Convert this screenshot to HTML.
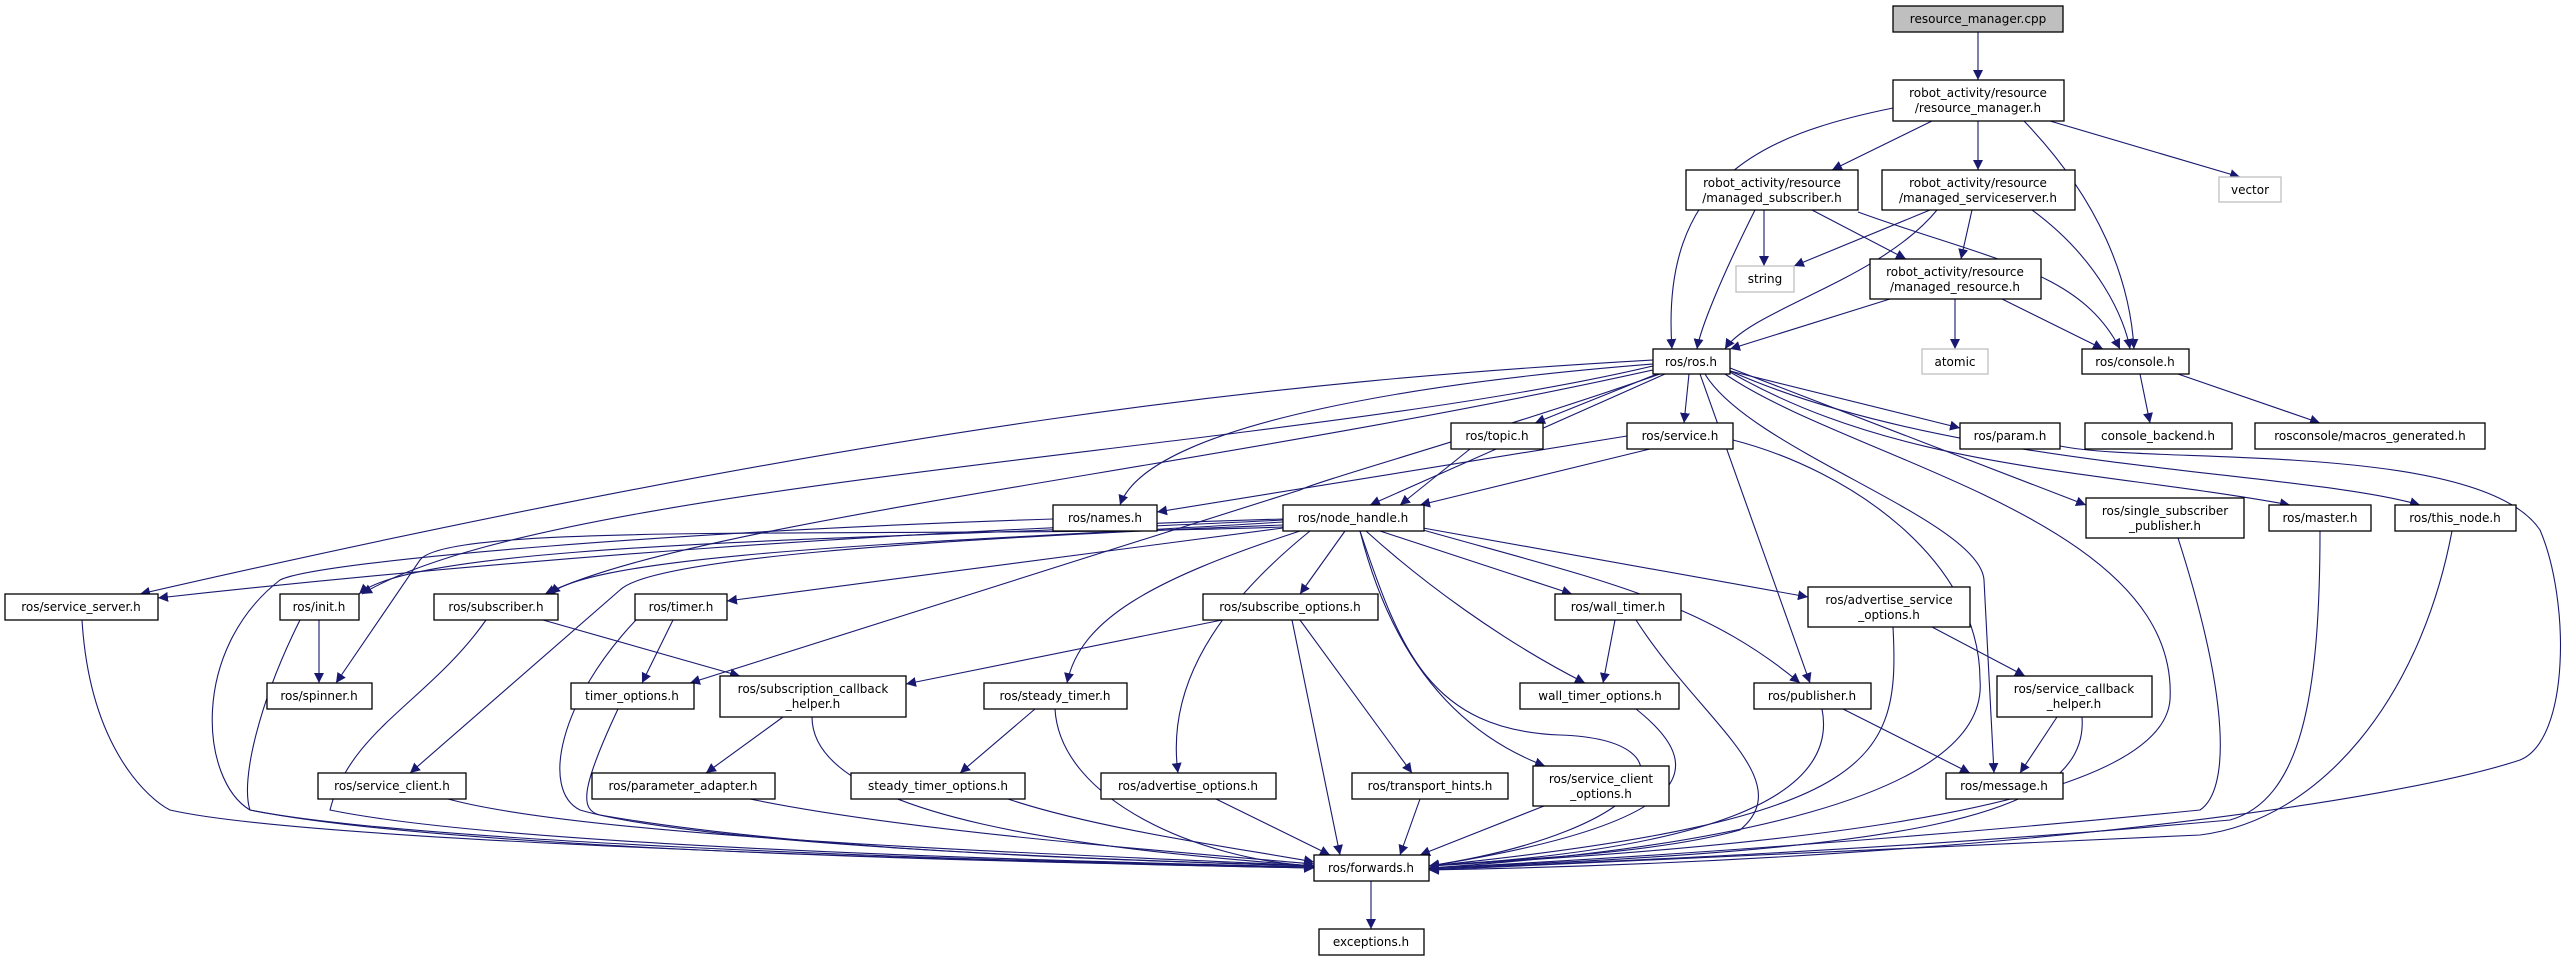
<!DOCTYPE html>
<html><head><meta charset="utf-8"><style>
html,body{margin:0;padding:0;background:#fff;}
svg{display:block;}
text{font-family:"DejaVu Sans","Liberation Sans",sans-serif;font-size:12px;fill:#000;text-anchor:middle;}
.n{fill:#fff;stroke:#000;stroke-width:1.3;}
.g{fill:#fff;stroke:#bfbfbf;stroke-width:1.3;}
.e{fill:none;stroke:#191970;stroke-width:1.1;marker-end:url(#a);}
</style></head><body>
<svg width="2563" height="961" viewBox="0 0 2563 961" xmlns="http://www.w3.org/2000/svg">
<defs><marker id="a" markerUnits="userSpaceOnUse" markerWidth="11" markerHeight="10" refX="10" refY="5" orient="auto"><path d="M0,0 L10,5 L0,10 z" fill="#191970"/></marker></defs>
<g>
<path class="e" d="M1978 32 L1978 80"/>
<path class="e" d="M1893 108 C1760 135 1660 180 1672 349"/>
<path class="e" d="M1932 121 L1832 170"/>
<path class="e" d="M1978 121 L1978 170"/>
<path class="e" d="M2024 121 C2100 200 2130 280 2134 349"/>
<path class="e" d="M2050 121 L2240 177"/>
<path class="e" d="M1755 210 C1720 280 1700 330 1697 349"/>
<path class="e" d="M1764 210 L1764 266"/>
<path class="e" d="M1812 210 L1906 259"/>
<path class="e" d="M1858 212 C1990 260 2080 270 2120 349"/>
<path class="e" d="M1930 210 L1794 266"/>
<path class="e" d="M1937 210 C1880 280 1750 310 1725 349"/>
<path class="e" d="M1972 210 L1961 259"/>
<path class="e" d="M2032 210 C2100 260 2125 320 2130 349"/>
<path class="e" d="M1890 299 L1730 349"/>
<path class="e" d="M1955 299 L1955 349"/>
<path class="e" d="M2002 299 L2103 349"/>
<path class="e" d="M2140 374 L2150 423"/>
<path class="e" d="M2178 374 L2320 423"/>
<path class="e" d="M1657 374 L1535 423"/>
<path class="e" d="M1689 374 L1684 423"/>
<path class="e" d="M1730 371 L1960 428"/>
<path class="e" d="M2060 446 C2150 465 2480 440 2540 530 C2570 600 2570 740 2520 760 C2400 800 2000 860 1429 870"/>
<path class="e" d="M1653 364 C1450 380 1150 420 1120 505"/>
<path class="e" d="M1627 436 L1157 512"/>
<path class="e" d="M1470 449 L1400 505"/>
<path class="e" d="M1650 449 L1420 505"/>
<path class="e" d="M1665 374 L1370 505"/>
<path class="e" d="M1653 360 C1300 380 900 420 140 594"/>
<path class="e" d="M1283 519 C900 530 500 560 158 598"/>
<path class="e" d="M1283 520 C900 540 420 540 359 594"/>
<path class="e" d="M1653 366 C1300 450 550 480 362 594"/>
<path class="e" d="M1653 370 C1200 470 700 520 545 594"/>
<path class="e" d="M1283 522 C1000 540 600 550 550 594"/>
<path class="e" d="M1283 527 C900 540 450 520 420 560 L336 683"/>
<path class="e" d="M319 620 L319 683"/>
<path class="e" d="M1283 528 L727 601"/>
<path class="e" d="M1660 374 C1500 430 1320 480 1300 490 L690 683"/>
<path class="e" d="M1283 525 C900 540 650 560 620 590 L410 773"/>
<path class="e" d="M1300 531 C1150 580 1080 620 1067 683"/>
<path class="e" d="M1310 531 C1200 620 1168 700 1178 773"/>
<path class="e" d="M1345 531 L1300 594"/>
<path class="e" d="M1292 620 L1340 855"/>
<path class="e" d="M1300 620 L1412 773"/>
<path class="e" d="M1035 709 L960 773"/>
<path class="e" d="M1055 709 C1060 800 1200 860 1314 866"/>
<path class="e" d="M783 717 L706 773"/>
<path class="e" d="M812 717 C812 820 1100 850 1314 866"/>
<path class="e" d="M543 620 L740 676"/>
<path class="e" d="M1222 620 L906 684"/>
<path class="e" d="M673 620 L642 683"/>
<path class="e" d="M1380 531 L1572 594"/>
<path class="e" d="M1366 531 C1420 580 1500 640 1585 683"/>
<path class="e" d="M1615 620 L1603 683"/>
<path class="e" d="M1423 530 C1600 580 1700 600 1800 683"/>
<path class="e" d="M1423 528 L1808 597"/>
<path class="e" d="M1932 627 L2025 676"/>
<path class="e" d="M1893 627 C1900 760 1880 820 1429 866"/>
<path class="e" d="M2057 717 L2020 773"/>
<path class="e" d="M2082 717 C2090 820 1900 850 1429 868"/>
<path class="e" d="M1843 709 L1970 773"/>
<path class="e" d="M1822 709 C1840 800 1700 850 1429 866"/>
<path class="e" d="M1700 374 L1810 683"/>
<path class="e" d="M1705 374 C1750 450 1980 520 1984 580 L1994 773"/>
<path class="e" d="M1730 368 L2086 505"/>
<path class="e" d="M1730 372 C1900 470 2100 470 2290 505"/>
<path class="e" d="M1728 370 C1950 470 2300 470 2420 505"/>
<path class="e" d="M1725 374 C1850 460 2180 520 2170 700 C2160 820 1700 850 1429 866"/>
<path class="e" d="M1733 440 C1850 470 1980 560 1980 680 C1990 800 1700 850 1429 868"/>
<path class="e" d="M2178 538 C2230 700 2230 790 2200 810 C1900 840 1600 860 1429 868"/>
<path class="e" d="M2320 531 C2320 700 2300 800 2230 820 C1900 850 1600 862 1429 869"/>
<path class="e" d="M2452 531 C2420 700 2320 820 2200 835 C1900 850 1600 864 1429 870"/>
<path class="e" d="M1636 620 C1700 720 1800 780 1740 830 C1650 855 1500 860 1429 866"/>
<path class="e" d="M1636 709 C1700 760 1720 820 1429 866"/>
<path class="e" d="M1360 531 C1390 650 1450 730 1545 766"/>
<path class="e" d="M1360 531 C1400 650 1430 730 1560 735 C1700 740 1660 830 1429 866"/>
<path class="e" d="M1544 806 L1420 855"/>
<path class="e" d="M1420 799 L1400 855"/>
<path class="e" d="M1216 799 L1330 855"/>
<path class="e" d="M1008 799 C1100 830 1250 850 1314 862"/>
<path class="e" d="M750 799 C900 830 1150 850 1314 864"/>
<path class="e" d="M448 799 C600 840 1100 855 1314 866"/>
<path class="e" d="M82 620 C90 750 150 800 170 810 C300 840 900 860 1314 868"/>
<path class="e" d="M300 620 C260 700 240 780 250 810 C400 840 900 860 1314 867"/>
<path class="e" d="M486 620 C430 700 350 730 330 810 C500 845 1000 860 1314 867"/>
<path class="e" d="M636 620 C560 700 540 790 580 810 C700 845 1100 860 1314 866"/>
<path class="e" d="M618 709 C580 790 580 810 600 815 C800 850 1100 860 1314 866"/>
<path class="e" d="M1053 519 C700 530 320 560 280 580 C190 650 200 780 250 810 C450 850 1000 862 1314 868"/>
<path class="e" d="M1371 881 L1371 929"/>
</g>
<g>
<rect x="1893" y="6" width="170" height="26" fill="#bfbfbf" stroke="#000" stroke-width="1.3"/><text x="1978" y="23">resource_manager.cpp</text>
<rect class="n" x="1893" y="80" width="171" height="41"/><text x="1978" y="97">robot_activity/resource</text><text x="1978" y="112">/resource_manager.h</text>
<rect class="n" x="1686" y="170" width="172" height="40"/><text x="1772" y="187">robot_activity/resource</text><text x="1772" y="202">/managed_subscriber.h</text>
<rect class="n" x="1882" y="170" width="193" height="40"/><text x="1978" y="187">robot_activity/resource</text><text x="1978" y="202">/managed_serviceserver.h</text>
<rect class="g" x="2219" y="177" width="62" height="25"/><text x="2250" y="194">vector</text>
<rect class="g" x="1736" y="266" width="58" height="26"/><text x="1765" y="283">string</text>
<rect class="n" x="1870" y="259" width="171" height="40"/><text x="1955" y="276">robot_activity/resource</text><text x="1955" y="291">/managed_resource.h</text>
<rect class="n" x="1653" y="349" width="77" height="25"/><text x="1691" y="366">ros/ros.h</text>
<rect class="g" x="1922" y="349" width="66" height="25"/><text x="1955" y="366">atomic</text>
<rect class="n" x="2082" y="349" width="107" height="25"/><text x="2135" y="366">ros/console.h</text>
<rect class="n" x="1451" y="423" width="92" height="26"/><text x="1497" y="440">ros/topic.h</text>
<rect class="n" x="1627" y="423" width="106" height="26"/><text x="1680" y="440">ros/service.h</text>
<rect class="n" x="1960" y="423" width="100" height="26"/><text x="2010" y="440">ros/param.h</text>
<rect class="n" x="2085" y="423" width="147" height="26"/><text x="2158" y="440">console_backend.h</text>
<rect class="n" x="2255" y="423" width="230" height="26"/><text x="2370" y="440">rosconsole/macros_generated.h</text>
<rect class="n" x="1053" y="505" width="104" height="26"/><text x="1105" y="522">ros/names.h</text>
<rect class="n" x="1283" y="505" width="141" height="26"/><text x="1353" y="522">ros/node_handle.h</text>
<rect class="n" x="2086" y="498" width="158" height="40"/><text x="2165" y="515">ros/single_subscriber</text><text x="2165" y="530">_publisher.h</text>
<rect class="n" x="2269" y="505" width="102" height="26"/><text x="2320" y="522">ros/master.h</text>
<rect class="n" x="2395" y="505" width="121" height="26"/><text x="2455" y="522">ros/this_node.h</text>
<rect class="n" x="5" y="594" width="153" height="26"/><text x="81" y="611">ros/service_server.h</text>
<rect class="n" x="280" y="594" width="79" height="26"/><text x="319" y="611">ros/init.h</text>
<rect class="n" x="434" y="594" width="124" height="26"/><text x="496" y="611">ros/subscriber.h</text>
<rect class="n" x="635" y="594" width="92" height="26"/><text x="681" y="611">ros/timer.h</text>
<rect class="n" x="1203" y="594" width="175" height="26"/><text x="1290" y="611">ros/subscribe_options.h</text>
<rect class="n" x="1555" y="594" width="126" height="26"/><text x="1618" y="611">ros/wall_timer.h</text>
<rect class="n" x="1808" y="587" width="162" height="40"/><text x="1889" y="604">ros/advertise_service</text><text x="1889" y="619">_options.h</text>
<rect class="n" x="267" y="683" width="105" height="26"/><text x="319" y="700">ros/spinner.h</text>
<rect class="n" x="571" y="683" width="123" height="26"/><text x="632" y="700">timer_options.h</text>
<rect class="n" x="720" y="676" width="186" height="41"/><text x="813" y="693">ros/subscription_callback</text><text x="813" y="708">_helper.h</text>
<rect class="n" x="984" y="683" width="143" height="26"/><text x="1055" y="700">ros/steady_timer.h</text>
<rect class="n" x="1520" y="683" width="159" height="26"/><text x="1600" y="700">wall_timer_options.h</text>
<rect class="n" x="1754" y="683" width="117" height="26"/><text x="1812" y="700">ros/publisher.h</text>
<rect class="n" x="1997" y="676" width="155" height="41"/><text x="2074" y="693">ros/service_callback</text><text x="2074" y="708">_helper.h</text>
<rect class="n" x="318" y="773" width="148" height="26"/><text x="392" y="790">ros/service_client.h</text>
<rect class="n" x="592" y="773" width="183" height="26"/><text x="683" y="790">ros/parameter_adapter.h</text>
<rect class="n" x="851" y="773" width="174" height="26"/><text x="938" y="790">steady_timer_options.h</text>
<rect class="n" x="1101" y="773" width="175" height="26"/><text x="1188" y="790">ros/advertise_options.h</text>
<rect class="n" x="1352" y="773" width="156" height="26"/><text x="1430" y="790">ros/transport_hints.h</text>
<rect class="n" x="1533" y="766" width="136" height="40"/><text x="1601" y="783">ros/service_client</text><text x="1601" y="798">_options.h</text>
<rect class="n" x="1946" y="773" width="117" height="26"/><text x="2004" y="790">ros/message.h</text>
<rect class="n" x="1314" y="855" width="115" height="26"/><text x="1371" y="872">ros/forwards.h</text>
<rect class="n" x="1319" y="929" width="105" height="26"/><text x="1371" y="946">exceptions.h</text>
</g>
</svg>
</body></html>
